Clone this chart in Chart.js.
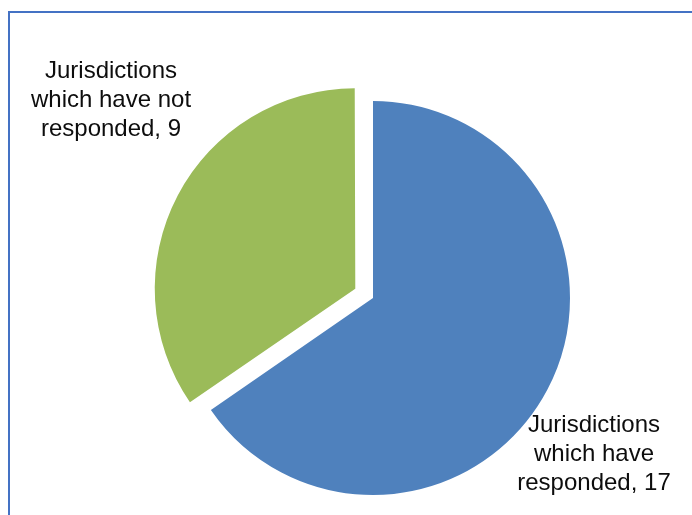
<!DOCTYPE html>
<html>
<head>
<meta charset="utf-8">
<script src="https://cdn.jsdelivr.net/npm/chart.js@4"></script>
<style>
    html, body { margin: 0; padding: 0; background: #fff; overflow: hidden; }
    #frame {
        position: absolute; left: 8px; top: 11px; width: 720px; height: 560px;
        border-top: 2px solid #4472C4; border-left: 2px solid #4472C4;
    }
    #pie { position: absolute; left: 0; top: 0; }
</style>
</head>
<body>
<div id="frame"></div>
<canvas id="pie" width="692" height="515"></canvas>
<script>
'use strict';

const categories = ['Jurisdictions which have responded', 'Jurisdictions which have not responded'];
const labelLines = [
    ['Jurisdictions', 'which have', 'responded, 17'],
    ['Jurisdictions', 'which have not', 'responded, 9']
];
const counts = [17, 9];
const sliceColors = ['#4F81BD', '#9BBB59'];
const sliceOffsets = [0, 80];

// подписи рядом с секторами (смещение от центра круга)
const labelShift = [[221, 156], [-262, -198]];

const pieLabels = {
    id: 'pieLabels',
    afterDatasetsDraw(chart) {
        const ctx = chart.ctx;
        const arcs = chart.getDatasetMeta(0).data;
        ctx.save();
        ctx.font = '24px "Liberation Sans", Arial, sans-serif';
        ctx.fillStyle = '#0d0d0d';
        ctx.textAlign = 'center';
        ctx.textBaseline = 'middle';
        arcs.forEach((arc, i) => {
            const cx = arc.x + labelShift[i][0];
            const cy = arc.y + labelShift[i][1];
            const lines = labelLines[i];
            lines.forEach((line, k) => {
                ctx.fillText(line, cx, cy + (k - (lines.length - 1) / 2) * 29);
            });
        });
        ctx.restore();
    }
};

new Chart(document.getElementById('pie').getContext('2d'), {
    type: 'pie',
    data: {
        labels: categories,
        datasets: [{
            data: counts,
            backgroundColor: sliceColors,
            offset: sliceOffsets,
            borderWidth: 0
        }]
    },
    options: {
        responsive: false,
        animation: false,
        radius: 197,
        layout: { padding: { left: 54, right: 0, top: 81, bottom: 0 } },
        plugins: {
            legend: { display: false },
            tooltip: { enabled: false }
        }
    },
    plugins: [pieLabels]
});
</script>
</body>
</html>
